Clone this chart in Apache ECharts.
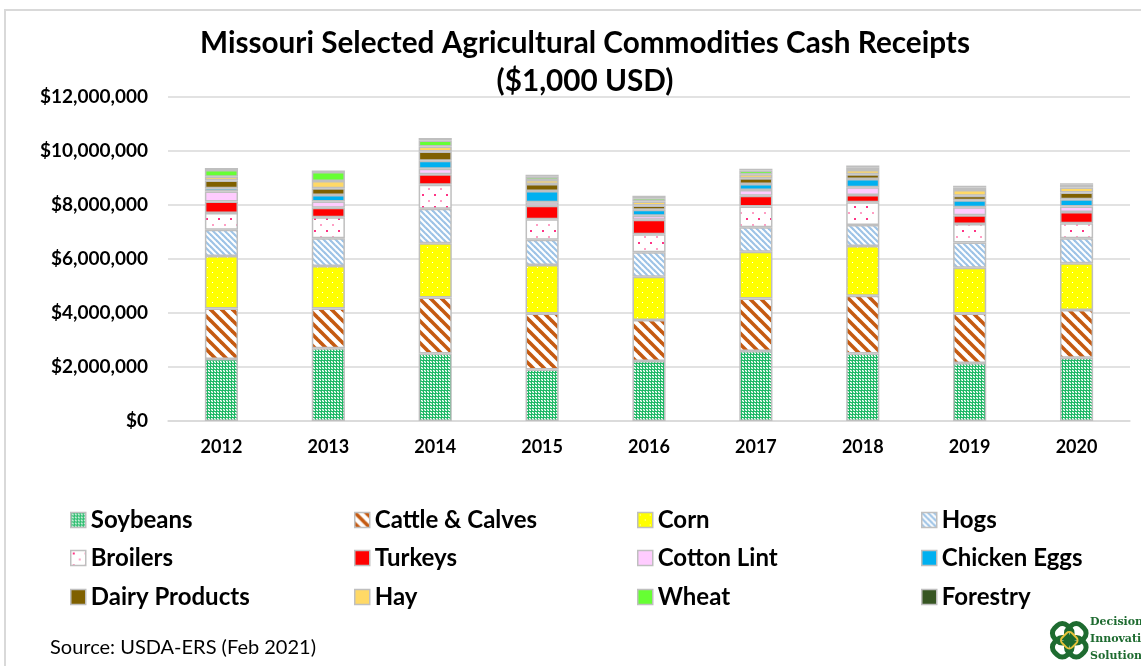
<!DOCTYPE html>
<html>
<head>
<meta charset="utf-8">
<script src="https://cdn.jsdelivr.net/npm/echarts@6/dist/echarts.min.js"></script>
<style>
html,body{margin:0;padding:0;background:#fff;}
#chart{width:1141px;height:666px;}
</style>
</head>
<body>
<div id="chart"></div>
<script>
// Data ($1,000 USD)
const years = ['2012','2013','2014','2015','2016','2017','2018','2019','2020'];
const soybeans     = [2300000,2690000,2500000,1910000,2220000,2590000,2500000,2150000,2340000];
const cattle       = [1870000,1480000,2070000,2070000,1520000,1950000,2140000,1830000,1770000];
const corn         = [1940000,1570000,2010000,1800000,1600000,1730000,1840000,1700000,1730000];
const hogs         = [970000,1030000,1280000,930000,910000,910000,780000,930000,930000];
const broilers     = [620000,780000,890000,760000,670000,760000,840000,690000,550000];
const turkeys      = [430000,350000,390000,500000,530000,400000,270000,320000,420000];
const cottonLint   = [370000,230000,200000,130000,150000,220000,290000,300000,200000];
const chickenEggs  = [120000,240000,300000,420000,220000,220000,300000,260000,270000];
const dairy        = [290000,250000,340000,260000,160000,210000,180000,160000,250000];
const hay          = [140000,270000,190000,150000,150000,150000,160000,220000,190000];
const wheat        = [250000,330000,220000,120000,120000,140000,100000,90000,100000];
const forestry     = [70000,60000,90000,70000,90000,60000,60000,60000,60000];
const yTicks = [0,2000000,4000000,6000000,8000000,10000000,12000000];

function tile(w,h,draw){
  const c=document.createElement('canvas');c.width=w;c.height=h;
  const g=c.getContext('2d');draw(g,w,h);return c;
}
const pSoy = tile(3,3,(g)=>{g.fillStyle='#ffffff';g.fillRect(0,0,3,3);g.fillStyle='#1EB865';g.fillRect(0,0,3,1);g.fillRect(0,0,1,3);g.fillStyle='#8EDCB2';g.fillRect(2,1,1,1);g.fillRect(1,2,1,1);});
const pCattle = tile(11,11,(g)=>{g.fillStyle='#ffffff';g.fillRect(0,0,11,11);g.strokeStyle='#C55A11';g.lineWidth=3.6;
  for(let k=-2;k<=2;k++){g.beginPath();g.moveTo(k*11-2,-2);g.lineTo(k*11+13,13);g.stroke();}});
const pCorn = tile(10,10,(g)=>{g.fillStyle='#FFFF00';g.fillRect(0,0,10,10);g.fillStyle='#ffffff';g.fillRect(2,2,1,1);g.fillRect(7,7,1,1);});
const pHogs = tile(6,6,(g)=>{g.fillStyle='#ffffff';g.fillRect(0,0,6,6);g.strokeStyle='#9DC3E6';g.lineWidth=2.2;
  for(let k=-2;k<=2;k++){g.beginPath();g.moveTo(k*6-1,-1);g.lineTo(k*6+7,7);g.stroke();}});
const pBroil = tile(12,12,(g)=>{g.fillStyle='#ffffff';g.fillRect(0,0,12,12);g.fillStyle='#FF3385';g.fillRect(2,2,2,2);g.fillStyle='#FF9EC4';g.fillRect(8,8,2,2);});

const names = ['Soybeans','Cattle & Calves','Corn','Hogs','Broilers','Turkeys','Cotton Lint','Chicken Eggs','Dairy Products','Hay','Wheat','Forestry'];
const datas = [soybeans,cattle,corn,hogs,broilers,turkeys,cottonLint,chickenEggs,dairy,hay,wheat,forestry];
const fills = [
  {image:pSoy,repeat:'repeat'},
  {image:pCattle,repeat:'repeat'},
  {image:pCorn,repeat:'repeat'},
  {image:pHogs,repeat:'repeat'},
  {image:pBroil,repeat:'repeat'},
  '#FF0000','#FFCCFF','#00B0F0','#7F6000','#FFD966','#66FF33','#375623'
];

const series = names.map((n,i)=>({
  name:n,type:'bar',stack:'total',data:datas[i],barWidth:'31%',
  itemStyle:{color:fills[i],borderColor:'#BFBFBF',borderWidth:1.5},
  emphasis:{disabled:true}
}));

const colX = [70,354,637,921];
const rowY = [508,546,585];
const legends = names.map((n,i)=>({
  left:colX[i%4],top:rowY[Math.floor(i/4)],padding:0,
  itemWidth:15,itemHeight:15,icon:'rect',selectedMode:false,
  itemStyle:{borderColor:'#BFBFBF',borderWidth:1.5},
  textStyle:{fontFamily:'Lato',fontWeight:'bold',fontSize:24,lineHeight:24,color:'#000'},
  data:[n]
}));

const chart = echarts.init(document.getElementById('chart'),null,{renderer:'canvas'});
chart.setOption({
  animation:false,
  backgroundColor:'#ffffff',
  title:{
    text:'Missouri Selected Agricultural Commodities Cash Receipts\n($1,000 USD)',
    left:585,top:24,padding:0,textAlign:'center',
    textStyle:{fontFamily:'Lato',fontWeight:'bold',fontSize:29.7,color:'#000',lineHeight:38}
  },
  grid:{left:168,right:11,top:97,bottom:245},
  xAxis:{
    type:'category',data:years,
    axisLine:{lineStyle:{color:'#D9D9D9',width:1.5}},
    axisTick:{show:false},
    axisLabel:{fontFamily:'Lato',fontWeight:'bold',fontSize:18,color:'#000',margin:17}
  },
  yAxis:{
    type:'value',min:0,max:12000000,interval:2000000,
    axisLine:{show:false},axisTick:{show:false},
    splitLine:{lineStyle:{color:'#D9D9D9',width:1.5}},
    axisLabel:{fontFamily:'Lato',fontWeight:'bold',fontSize:19,color:'#000',margin:20,
      formatter:(v)=>'$'+v.toLocaleString('en-US')}
  },
  legend:legends,
  graphic:[
    {type:'rect',shape:{x:5,y:10,width:1200,height:700},style:{fill:'none',stroke:'#D9D9D9',lineWidth:2},silent:true,z:-1},
    {type:'text',left:50,top:638,style:{text:'Source: USDA-ERS (Feb 2021)',fontFamily:'Lato',fontSize:20,fill:'#000'}},
    {type:'group',left:1046,top:617,children:[
      {type:'rect',shape:{x:4,y:4,width:18,height:18,r:7},rotation:Math.PI/4,originX:13,originY:13,style:{fill:'none',stroke:'#1E6B30',lineWidth:5}},
      {type:'rect',shape:{x:18,y:4,width:18,height:18,r:7},rotation:Math.PI/4,originX:27,originY:13,style:{fill:'none',stroke:'#1E6B30',lineWidth:5}},
      {type:'rect',shape:{x:4,y:18,width:18,height:18,r:7},rotation:Math.PI/4,originX:13,originY:27,style:{fill:'none',stroke:'#1E6B30',lineWidth:5}},
      {type:'rect',shape:{x:18,y:18,width:18,height:18,r:7},rotation:Math.PI/4,originX:27,originY:27,style:{fill:'none',stroke:'#1E6B30',lineWidth:5}},
      {type:'rect',shape:{x:13,y:13,width:14,height:14,r:4},rotation:Math.PI/4,originX:20,originY:20,style:{fill:'none',stroke:'#E8C33A',lineWidth:2}}
    ]},
    {type:'text',left:1090,top:614,style:{text:'Decision\nInnovation\nSolutions',fontFamily:'DejaVu Serif',fontWeight:'bold',fontSize:11,lineHeight:17,fill:'#1E6B30'}}
  ],
  series:series
});
</script>
</body>
</html>
